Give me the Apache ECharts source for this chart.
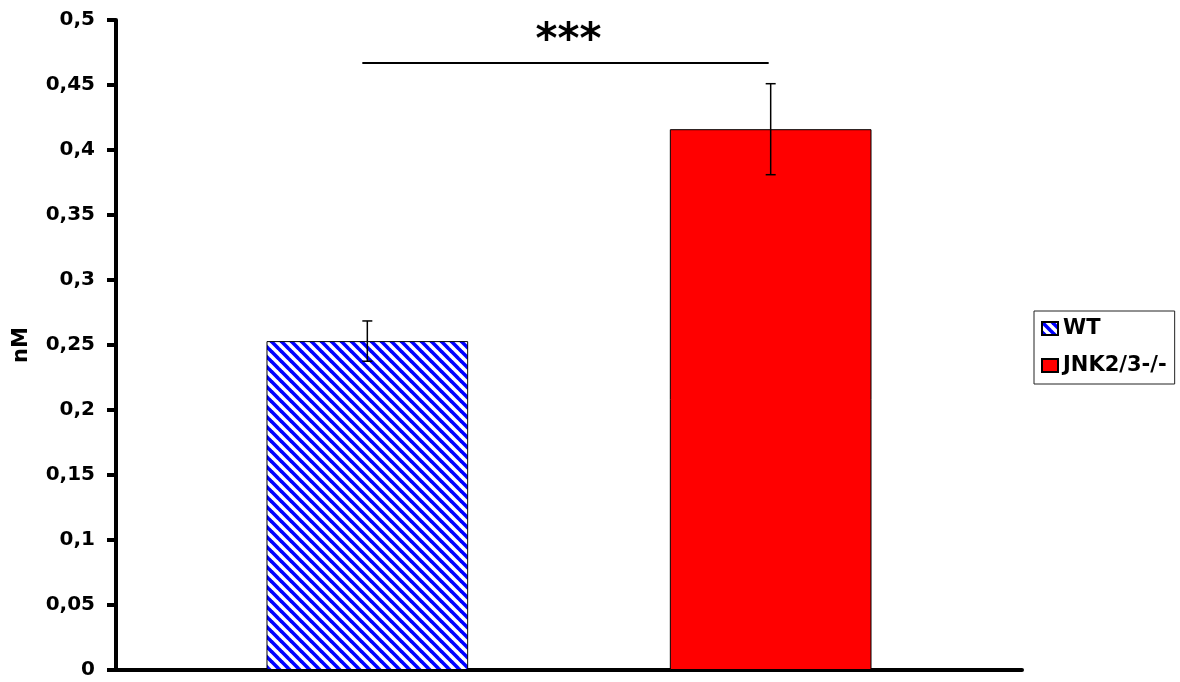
<!DOCTYPE html>
<html>
<head>
<meta charset="utf-8">
<script src="https://cdn.jsdelivr.net/npm/echarts@6/dist/echarts.min.js"></script>
<style>
html,body{margin:0;padding:0;background:#fff;}
#chart{width:1180px;height:682px;}
</style>
</head>
<body>
<div id="chart"></div>
<script>
// ---- data ----
const seriesNames = ['WT', 'JNK2/3-/-'];
const means = [0.253, 0.416];
const errors = [0.0155, 0.035];
const seriesColors = ['pattern', '#FF0000'];
const yLabel = 'nM';
const yMin = 0, yMax = 0.5, yInterval = 0.05;
const sigLabel = '***';
const sigLineLevel = 0.467;
const sigTextLevel = 0.483;

// ---- hatch pattern ----
function makeHatch() {
  const s = 10;
  const c = document.createElement('canvas');
  c.width = s; c.height = s;
  const ctx = c.getContext('2d');
  ctx.fillStyle = '#ffffff';
  ctx.fillRect(0, 0, s, s);
  ctx.strokeStyle = '#0000FF';
  ctx.lineWidth = 3.6;
  for (let k = -s; k <= s; k += s) {
    ctx.beginPath();
    ctx.moveTo(k - 1, -1);
    ctx.lineTo(k + s + 1, s + 1);
    ctx.stroke();
  }
  return { image: c, repeat: 'repeat' };
}
const hatch = makeHatch();

const BAR_FRAC = 0.2226; // bar width as fraction of category band
function barOffset(idx, band) {
  const w = band * BAR_FRAC;
  return (idx === 0 ? -1 : 1) * w;
}

const chart = echarts.init(document.getElementById('chart'));

const barSeries = seriesNames.map((n, i) => ({
  name: n,
  type: 'bar',
  data: [means[i]],
  barWidth: (BAR_FRAC * 100) + '%',
  barGap: '100%',
  itemStyle: {
    color: seriesColors[i] === 'pattern' ? hatch : seriesColors[i],
    borderColor: '#000',
    borderWidth: 1
  },
  emphasis: { disabled: true },
  z: 2
}));

const errData = means.map((m, i) => [0, m, errors[i], i]);

const option = {
  animation: false,
  backgroundColor: '#fff',
  grid: { left: 116, right: 158, top: 20, bottom: 12, containLabel: false },
  legend: {
    data: seriesNames,
    orient: 'vertical',
    left: 1034,
    top: 311,
    icon: 'rect',
    itemWidth: 16,
    itemHeight: 13,
    itemGap: 16,
    itemTextGap: 7,
    padding: [7, 8, 8, 7],
    borderColor: '#222',
    borderWidth: 1,
    backgroundColor: '#fff',
    textStyle: { fontFamily: 'DejaVu Sans', fontWeight: 'bold', fontSize: 21, color: '#000' }
  },
  xAxis: {
    type: 'category',
    data: [''],
    axisLine: { lineStyle: { color: '#000', width: 4 } },
    axisTick: { show: false },
    axisLabel: { show: false },
    splitLine: { show: false }
  },
  yAxis: {
    type: 'value',
    min: yMin, max: yMax, interval: yInterval,
    name: yLabel,
    nameLocation: 'middle',
    nameRotate: 90,
    nameGap: 84,
    nameTextStyle: { fontFamily: 'DejaVu Sans', fontWeight: 'bold', fontSize: 21, color: '#000' },
    axisLine: { show: true, lineStyle: { color: '#000', width: 4 } },
    axisTick: { show: true, length: 9, lineStyle: { color: '#000', width: 4 } },
    axisLabel: {
      margin: 21,
      fontFamily: 'DejaVu Sans', fontWeight: 'bold', fontSize: 20, color: '#000',
      formatter: v => String(+v.toFixed(2)).replace('.', ',')
    },
    splitLine: { show: false }
  },
  series: barSeries.concat([
    {
      type: 'custom',
      data: errData,
      z: 5,
      silent: true,
      renderItem: function (params, api) {
        const band = api.size([1, 0])[0];
        const idx = api.value(3);
        const off = barOffset(idx, band);
        const m = api.value(1), e = api.value(2);
        const top = api.coord([0, m + e]);
        const bot = api.coord([0, m - e]);
        const x = top[0] + off;
        const cap = 5;
        const st = { stroke: '#000', lineWidth: 1.5 };
        return {
          type: 'group',
          children: [
            { type: 'line', shape: { x1: x, y1: top[1], x2: x, y2: bot[1] }, style: st },
            { type: 'line', shape: { x1: x - cap, y1: top[1], x2: x + cap, y2: top[1] }, style: st },
            { type: 'line', shape: { x1: x - cap, y1: bot[1], x2: x + cap, y2: bot[1] }, style: st }
          ]
        };
      }
    },
    {
      type: 'custom',
      data: [[0, sigLineLevel, sigTextLevel]],
      z: 5,
      silent: true,
      renderItem: function (params, api) {
        const band = api.size([1, 0])[0];
        const p = api.coord([0, api.value(1)]);
        const t = api.coord([0, api.value(2)]);
        const x1 = p[0] + barOffset(0, band) - 5;
        const x2 = p[0] + barOffset(1, band) - 2;
        return {
          type: 'group',
          children: [
            { type: 'line', shape: { x1: x1, y1: p[1], x2: x2, y2: p[1] }, style: { stroke: '#000', lineWidth: 2 } },
            { type: 'text', x: (x1 + x2) / 2 + 3, y: t[1],
              style: { text: sigLabel, fill: '#000', align: 'center', verticalAlign: 'middle',
                font: 'bold 42px "DejaVu Sans"' } }
          ]
        };
      }
    }
  ])
};
chart.setOption(option);
</script>
</body>
</html>
